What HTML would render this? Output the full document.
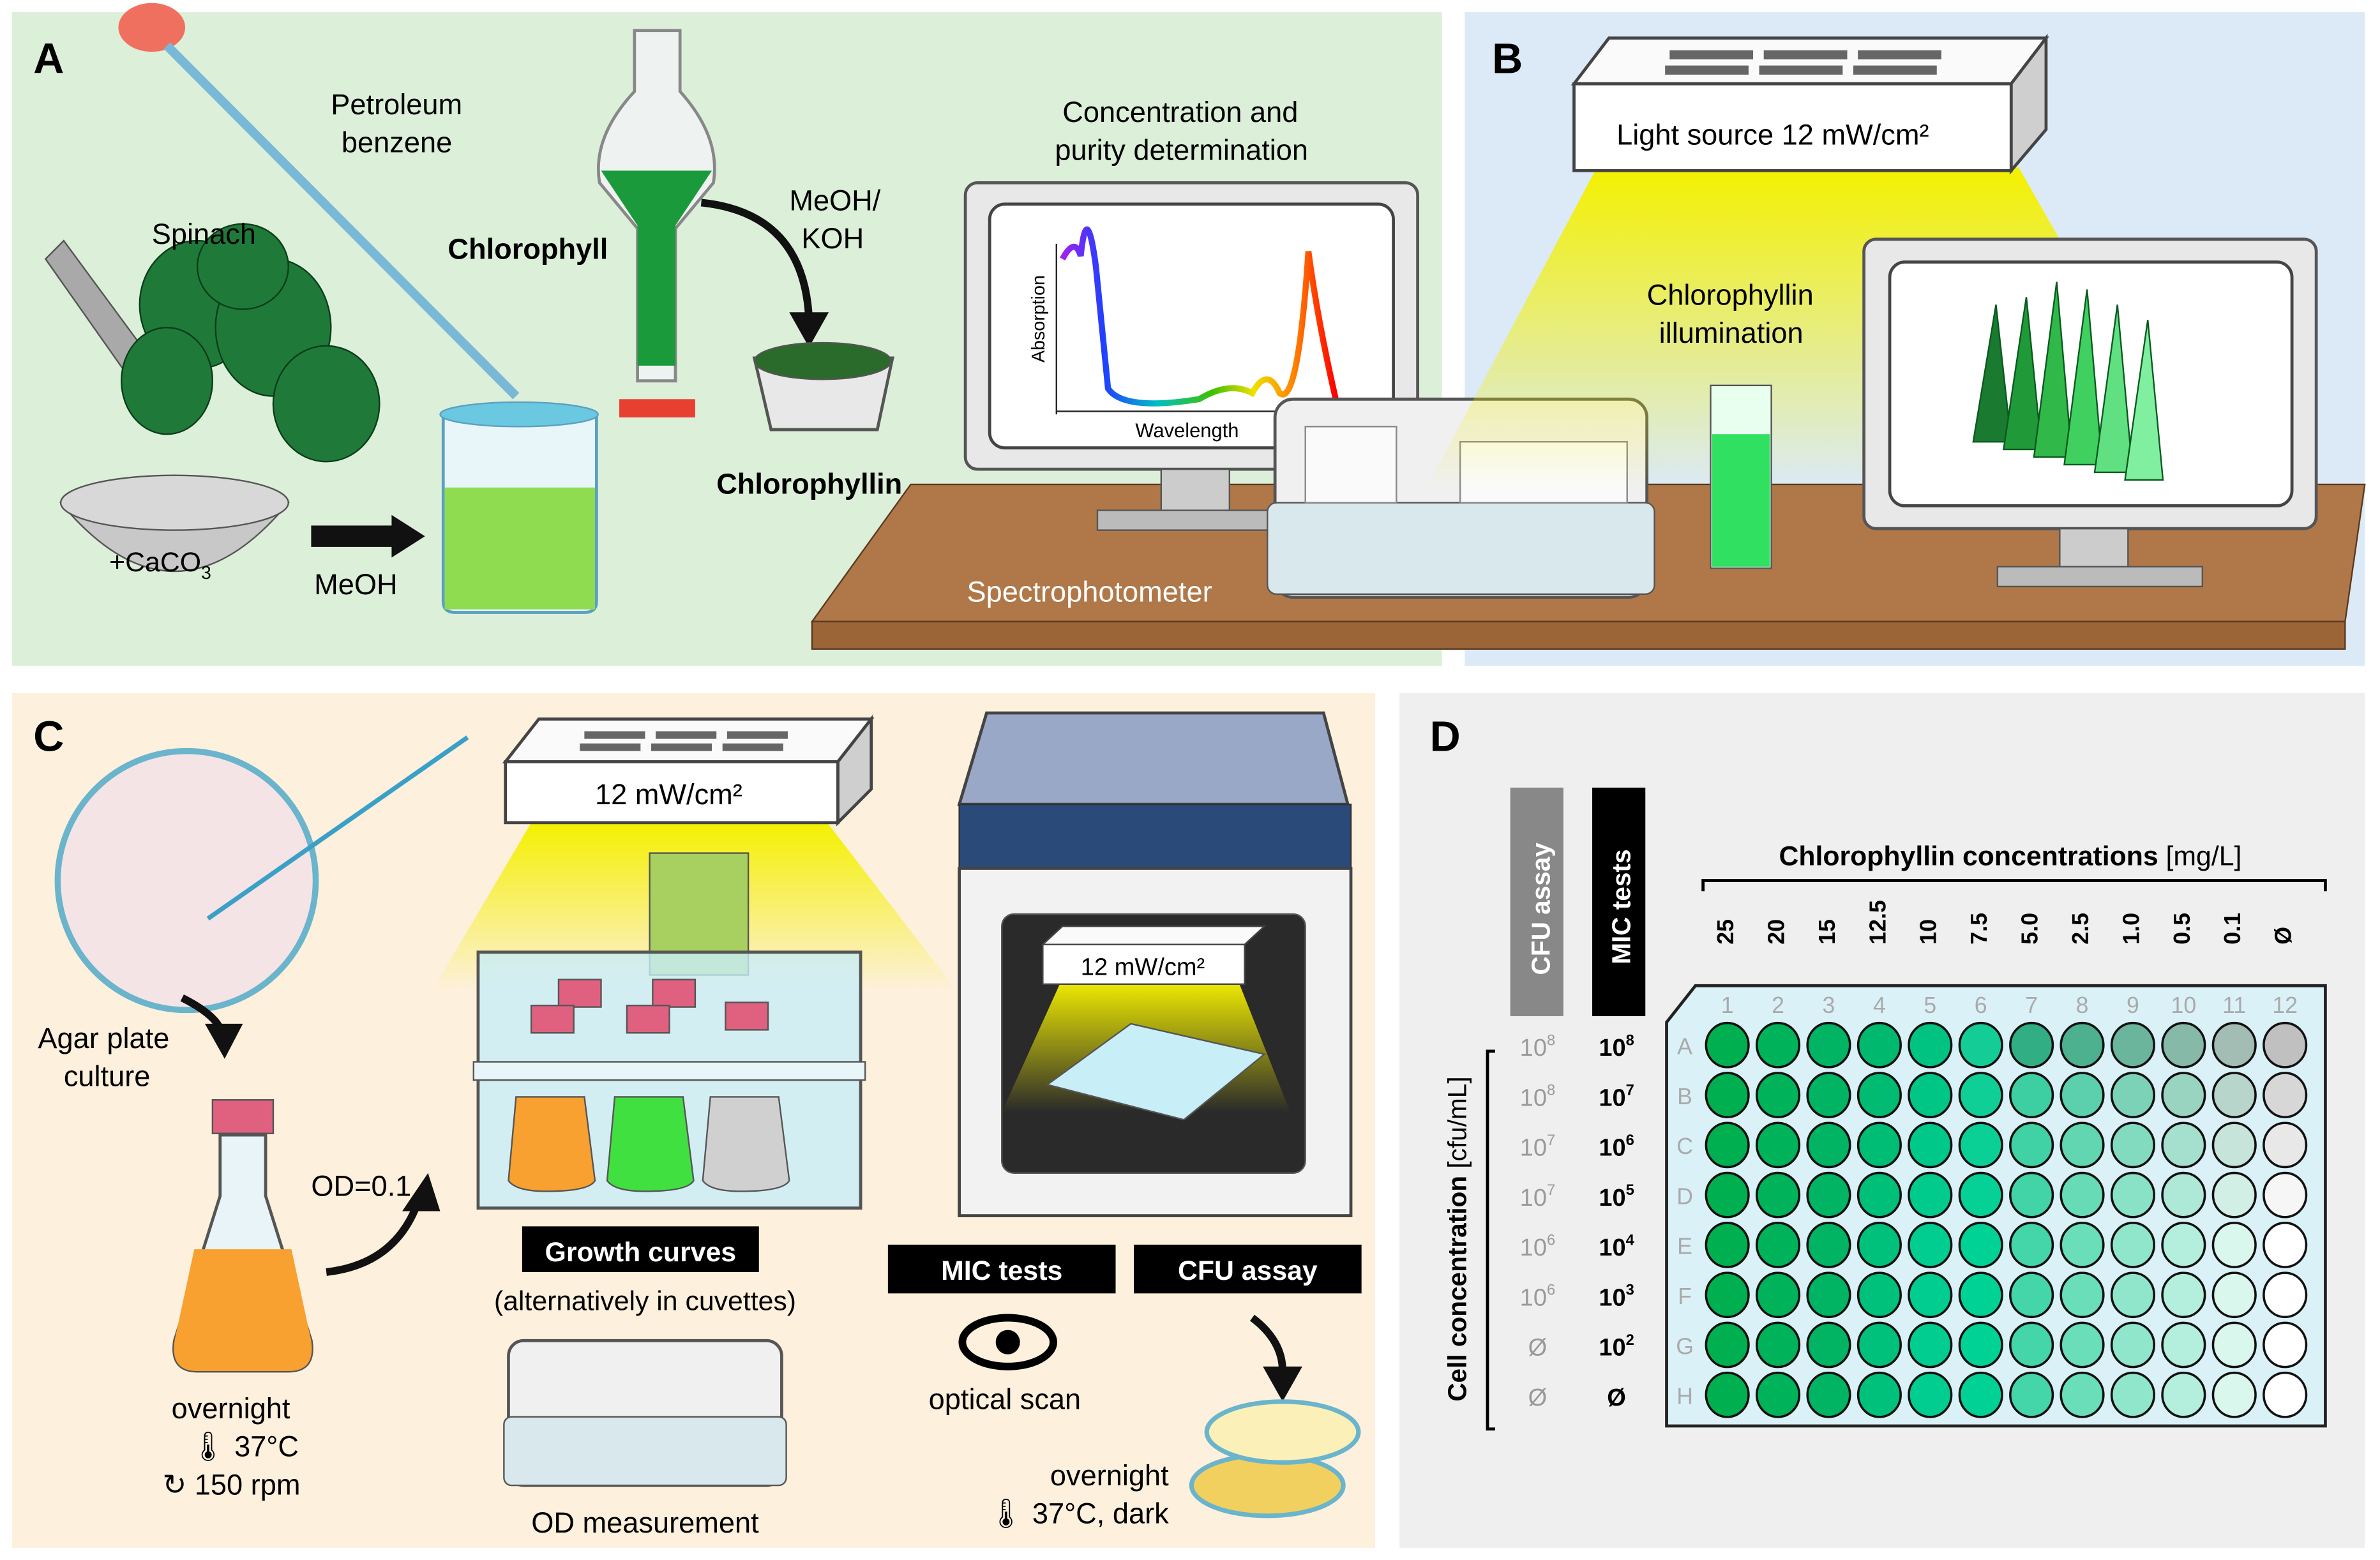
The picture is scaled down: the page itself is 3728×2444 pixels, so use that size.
<!DOCTYPE html>
<html><head><meta charset="utf-8">
<style>
html,body{margin:0;padding:0;background:#fff;}
svg{display:block;}
text{font-family:"Liberation Sans",Arial,sans-serif;}
</style></head>
<body>
<svg id="s" width="3728" height="2444" viewBox="0 0 1568 1024" preserveAspectRatio="none" xmlns="http://www.w3.org/2000/svg">
<defs>
<linearGradient id="beam" x1="0" y1="0" x2="0" y2="1"><stop offset="0" stop-color="#f4f000"/><stop offset="1" stop-color="#f4f000" stop-opacity="0"/></linearGradient>
<linearGradient id="spec" x1="0" y1="0" x2="1" y2="0"><stop offset="0" stop-color="#a020f0"/><stop offset=".15" stop-color="#2040ff"/><stop offset=".35" stop-color="#00c0c0"/><stop offset=".55" stop-color="#40c000"/><stop offset=".7" stop-color="#f0e000"/><stop offset=".85" stop-color="#ff8000"/><stop offset="1" stop-color="#ff0000"/></linearGradient>
</defs>
<!-- panel backgrounds -->
<rect x="8" y="8" width="942" height="429" fill="#dcefd9"/>
<rect x="965" y="8" width="593" height="429" fill="#dbeaf6"/>
<rect x="8" y="455" width="898" height="561" fill="#fdf0dc"/>
<rect x="922" y="455" width="636" height="561" fill="#efefef"/>

<!-- ===== Panel A ===== -->
<text x="22" y="48" font-size="28" font-weight="bold">A</text>
<!-- table -->
<polygon points="535,408 600,318 1558,318 1545,408" fill="#b07848" stroke="#5a3a20"/>
<rect x="535" y="408" width="1010" height="18" fill="#9c6538" stroke="#5a3a20"/>
<!-- mortar -->
<polygon points="30,170 42,158 110,250 95,262" fill="#a9a9a9" stroke="#555"/>
<g fill="#1f7a3a" stroke="#0c3d1a">
<ellipse cx="130" cy="200" rx="38" ry="42"/><ellipse cx="180" cy="215" rx="38" ry="45"/><ellipse cx="215" cy="265" rx="35" ry="38"/><ellipse cx="110" cy="250" rx="30" ry="35"/><ellipse cx="160" cy="175" rx="30" ry="28"/>
</g>
<path d="M40,330 Q115,420 190,330 Z" fill="#c8c8c8" stroke="#555"/>
<ellipse cx="115" cy="330" rx="75" ry="18" fill="#d8d8d8" stroke="#555"/>
<text x="72" y="375" font-size="18">+CaCO<tspan font-size="12" dy="5">3</tspan></text>
<text x="100" y="160" font-size="19">Spinach</text>
<polygon points="205,345 258,345 258,338 280,352 258,366 258,359 205,359" fill="#111"/>
<text x="207" y="390" font-size="19">MeOH</text>
<!-- pipette -->
<ellipse cx="100" cy="18" rx="22" ry="16" fill="#f07060"/>
<line x1="110" y1="30" x2="340" y2="260" stroke="#7ab8d8" stroke-width="6"/>
<text x="218" y="75" font-size="19">Petroleum</text><text x="225" y="100" font-size="19">benzene</text>
<!-- beaker -->
<path d="M292,272 L292,395 Q292,402 300,402 L385,402 Q393,402 393,395 L393,272 Z" fill="#e8f6fa" stroke="#5aa0c0" stroke-width="2"/>
<rect x="293" y="320" width="99" height="80" fill="#8fdc50"/>
<ellipse cx="342" cy="272" rx="52" ry="8" fill="#6ac8e0" stroke="#5aa0c0"/>
<!-- separatory funnel -->
<path d="M418,20 L448,20 L448,60 Q475,90 470,120 L445,150 L445,250 L420,250 L420,150 L395,120 Q390,90 418,60 Z" fill="#eef2f0" stroke="#888" stroke-width="2"/>
<path d="M396,112 L469,112 L445,148 L445,240 L420,240 L420,148 Z" fill="#1a9a3a"/>
<rect x="408" y="262" width="50" height="12" fill="#e84030"/>
<text x="295" y="170" font-size="19" font-weight="bold">Chlorophyll</text>
<text x="520" y="138" font-size="19">MeOH/</text><text x="528" y="163" font-size="19">KOH</text>
<path d="M462,133 Q530,140 533,210" fill="none" stroke="#111" stroke-width="5"/>
<polygon points="520,205 546,205 533,228" fill="#111"/>
<path d="M497,235 L508,282 L578,282 L588,235 Z" fill="#e8e8e8" stroke="#555" stroke-width="2"/>
<ellipse cx="542" cy="237" rx="45" ry="12" fill="#2a6a2a" stroke="#555"/>
<text x="472" y="324" font-size="19" font-weight="bold">Chlorophyllin</text>
<!-- monitor A -->
<text x="700" y="80" font-size="19">Concentration and</text><text x="695" y="105" font-size="19">purity determination</text>
<rect x="636" y="120" width="298" height="188" rx="8" fill="#e8e8e8" stroke="#555" stroke-width="2"/>
<rect x="652" y="134" width="266" height="160" rx="10" fill="#fff" stroke="#444" stroke-width="2"/>
<rect x="765" y="308" width="45" height="28" fill="#ccc" stroke="#555"/>
<rect x="723" y="335" width="120" height="13" fill="#bbb" stroke="#555"/>
<line x1="696" y1="160" x2="696" y2="272" stroke="#222"/><line x1="696" y1="270" x2="895" y2="270" stroke="#222"/>
<path d="M700,170 Q708,155 712,168 Q716,130 722,175 L730,255 Q740,270 790,262 Q810,250 825,258 Q835,240 843,258 Q855,268 862,165 Q868,210 880,262" fill="none" stroke="url(#spec)" stroke-width="4"/>
<text x="748" y="287" font-size="13">Wavelength</text>
<text transform="translate(688,238) rotate(-90)" font-size="12">Absorption</text>
<!-- spectrophotometer -->
<rect x="840" y="262" width="245" height="130" rx="12" fill="#f0f0f0" stroke="#555" stroke-width="2"/>
<rect x="835" y="330" width="255" height="60" rx="6" fill="#d8e8ec" stroke="#555"/>
<rect x="860" y="280" width="60" height="50" fill="#fafafa" stroke="#888"/>
<rect x="962" y="290" width="110" height="40" fill="#fafafa" stroke="#888"/>
<text x="637" y="395" font-size="19" fill="#fff">Spectrophotometer</text>

<!-- ===== Panel B ===== -->
<text x="983" y="48" font-size="28" font-weight="bold">B</text>
<polygon points="1052,110 1330,110 1450,320 940,320" fill="url(#beam)"/>
<polygon points="1037,55 1060,25 1348,25 1325,55" fill="#fafafa" stroke="#444" stroke-width="2"/>
<polygon points="1325,55 1348,25 1348,85 1325,112" fill="#cfcfcf" stroke="#444" stroke-width="2"/>
<rect x="1037" y="55" width="288" height="57" fill="#fff" stroke="#444" stroke-width="2"/>
<g fill="#666"><rect x="1100" y="33" width="55" height="6"/><rect x="1162" y="33" width="55" height="6"/><rect x="1224" y="33" width="55" height="6"/><rect x="1097" y="43" width="55" height="6"/><rect x="1159" y="43" width="55" height="6"/><rect x="1221" y="43" width="55" height="6"/></g>
<text x="1065" y="95" font-size="19">Light source 12 mW/cm²</text>
<text x="1085" y="200" font-size="19">Chlorophyllin</text><text x="1093" y="225" font-size="19">illumination</text>
<rect x="1127" y="253" width="40" height="120" fill="#e8fff0" stroke="#555"/>
<rect x="1128" y="285" width="38" height="87" fill="#30e060"/>
<!-- monitor B -->
<rect x="1228" y="157" width="298" height="190" rx="8" fill="#e8e8e8" stroke="#555" stroke-width="2"/>
<rect x="1245" y="172" width="265" height="160" rx="10" fill="#fff" stroke="#444" stroke-width="2"/>
<rect x="1357" y="347" width="45" height="26" fill="#ccc" stroke="#555"/>
<rect x="1316" y="372" width="135" height="13" fill="#bbb" stroke="#555"/>
<g stroke="#0a5a20" stroke-width="1">
<path d="M1300,290 L1315,200 L1325,290 Z" fill="#1a7a30"/><path d="M1320,295 L1335,195 L1345,295 Z" fill="#209a38"/><path d="M1340,300 L1355,185 L1365,300 Z" fill="#30b848"/><path d="M1360,305 L1375,190 L1385,305 Z" fill="#40d060"/><path d="M1380,310 L1395,200 L1405,310 Z" fill="#60e080"/><path d="M1400,315 L1415,210 L1425,315 Z" fill="#80f0a0"/>
</g>
<!-- ===== Panel C ===== -->
<text x="22" y="493" font-size="28" font-weight="bold">C</text>
<circle cx="123" cy="578" r="85" fill="#f4e4e6" stroke="#6ab4cc" stroke-width="4"/>
<line x1="137" y1="603" x2="308" y2="484" stroke="#3aa0c8" stroke-width="3"/>
<text x="25" y="688" font-size="19">Agar plate</text><text x="42" y="713" font-size="19">culture</text>
<path d="M120,655 Q140,665 145,675" fill="none" stroke="#111" stroke-width="5"/>
<polygon points="135,672 160,672 148,695" fill="#111"/>
<!-- flask -->
<rect x="140" y="722" width="40" height="22" fill="#e06080" stroke="#555"/>
<path d="M145,745 L145,785 L115,880 Q112,900 130,900 L190,900 Q208,900 205,880 L175,785 L175,745 Z" fill="#e8f4f8" stroke="#555" stroke-width="2"/>
<path d="M128,820 L192,820 L205,880 Q208,900 190,900 L130,900 Q112,900 115,880 Z" fill="#f8a030"/>
<text x="205" y="785" font-size="19">OD=0.1</text>
<path d="M215,835 Q260,830 275,790" fill="none" stroke="#111" stroke-width="5"/>
<polygon points="265,795 290,795 282,770" fill="#111"/>
<text x="113" y="931" font-size="19">overnight</text>
<text x="125" y="956" font-size="19">🌡 37°C</text>
<text x="107" y="981" font-size="19">↻ 150 rpm</text>
<!-- light C -->
<polygon points="350,540 545,540 630,650 285,650" fill="url(#beam)"/>
<polygon points="333,500 355,472 574,472 552,500" fill="#fafafa" stroke="#444" stroke-width="2"/>
<polygon points="552,500 574,472 574,518 552,540" fill="#cfcfcf" stroke="#444" stroke-width="2"/>
<rect x="333" y="500" width="219" height="40" fill="#fff" stroke="#444" stroke-width="2"/>
<g fill="#666"><rect x="385" y="480" width="40" height="5"/><rect x="432" y="480" width="40" height="5"/><rect x="479" y="480" width="40" height="5"/><rect x="382" y="488" width="40" height="5"/><rect x="429" y="488" width="40" height="5"/><rect x="476" y="488" width="40" height="5"/></g>
<text x="392" y="528" font-size="19">12 mW/cm²</text>
<!-- shaker / water bath -->
<rect x="428" y="560" width="65" height="80" fill="#a8d060" stroke="#555"/>
<rect x="315" y="625" width="252" height="168" fill="#c8eef8" fill-opacity=".8" stroke="#555" stroke-width="2"/>
<rect x="312" y="697" width="258" height="12" fill="#e8f6fa" stroke="#555"/>
<path d="M340,720 L335,775 Q340,782 360,782 Q388,782 392,775 L385,720 Z" fill="#f8a030" stroke="#555"/>
<path d="M405,720 L400,775 Q405,782 425,782 Q453,782 457,775 L450,720 Z" fill="#40e040" stroke="#555"/>
<path d="M468,720 L463,775 Q468,782 488,782 Q516,782 520,775 L513,720 Z" fill="#d0d0d0" stroke="#555"/>
<g fill="#e06080" stroke="#555"><rect x="368" y="643" width="28" height="18"/><rect x="430" y="643" width="28" height="18"/><rect x="478" y="658" width="28" height="18"/><rect x="350" y="660" width="28" height="18"/><rect x="413" y="660" width="28" height="18"/></g>
<rect x="344" y="805" width="156" height="30" fill="#000"/>
<text x="422" y="828" font-size="18" font-weight="bold" fill="#fff" text-anchor="middle">Growth curves</text>
<text x="425" y="860" font-size="18" text-anchor="middle">(alternatively in cuvettes)</text>
<rect x="335" y="880" width="180" height="95" rx="10" fill="#f0f0f0" stroke="#555" stroke-width="2"/>
<rect x="332" y="930" width="186" height="45" rx="5" fill="#d8e8ec" stroke="#555"/>
<text x="425" y="1006" font-size="19" text-anchor="middle">OD measurement</text>
<!-- incubator -->
<path d="M632,528 L650,468 L872,468 L888,528 Z" fill="#9aa8c8" stroke="#444" stroke-width="2"/>
<rect x="632" y="528" width="258" height="42" fill="#2a4a7a" stroke="#333"/>
<rect x="632" y="570" width="258" height="228" fill="#f2f2f2" stroke="#444" stroke-width="2"/>
<rect x="660" y="600" width="200" height="170" rx="8" fill="#2a2a2a" stroke="#555"/>
<polygon points="700,642 815,642 850,730 660,730" fill="url(#beam)"/>
<polygon points="687,620 700,608 833,608 820,620" fill="#fafafa" stroke="#444"/>
<rect x="687" y="620" width="133" height="26" fill="#fff" stroke="#444"/>
<text x="712" y="640" font-size="16">12 mW/cm²</text>
<polygon points="690,712 745,672 833,692 780,735" fill="#c8eef8" stroke="#555"/>
<rect x="585" y="817" width="150" height="32" fill="#000"/><text x="660" y="840" font-size="18" font-weight="bold" fill="#fff" text-anchor="middle">MIC tests</text>
<rect x="747" y="817" width="150" height="32" fill="#000"/><text x="822" y="840" font-size="18" font-weight="bold" fill="#fff" text-anchor="middle">CFU assay</text>
<ellipse cx="664" cy="881" rx="30" ry="16" fill="none" stroke="#000" stroke-width="5"/><circle cx="664" cy="881" r="8" fill="#000"/>
<text x="662" y="925" font-size="19" text-anchor="middle">optical scan</text>
<path d="M825,865 Q845,880 845,900" fill="none" stroke="#111" stroke-width="5"/>
<polygon points="832,897 858,897 845,920" fill="#111"/>
<ellipse cx="835" cy="975" rx="50" ry="20" fill="#f2d060" stroke="#6ab4cc" stroke-width="3"/>
<ellipse cx="845" cy="940" rx="50" ry="20" fill="#fbf0b8" stroke="#6ab4cc" stroke-width="3"/>
<text x="770" y="975" font-size="19" text-anchor="end">overnight</text>
<text x="770" y="1000" font-size="19" text-anchor="end">🌡 37°C, dark</text>

<!-- ===== Panel D ===== -->
<text x="942" y="493" font-size="28" font-weight="bold">D</text>
<rect x="995" y="517" width="35" height="150" fill="#888"/>
<text transform="translate(1021,640) rotate(-90)" font-size="17" font-weight="bold" fill="#fff">CFU assay</text>
<rect x="1049" y="517" width="35" height="150" fill="#000"/>
<text transform="translate(1074,633) rotate(-90)" font-size="17" font-weight="bold" fill="#fff">MIC tests</text>
<text x="1172" y="568" font-size="18" font-weight="bold">Chlorophyllin concentrations <tspan font-weight="normal">[mg/L]</tspan></text>
<path d="M1122,585 L1122,578 L1532,578 L1532,585" fill="none" stroke="#000" stroke-width="2"/>
<path d="M985,690 L980,690 L980,938 L985,938" fill="none" stroke="#000" stroke-width="2"/>
<text transform="translate(966,920) rotate(-90)" font-size="17"><tspan font-weight="bold">Cell concentration</tspan> [cfu/mL]</text>
<polygon points="1098,671 1117,647 1532,647 1532,936 1098,936" fill="#dbf1f8" stroke="#222" stroke-width="2"/>
<g id="plate"></g>
</svg>
<script>
(function(){
var g=document.getElementById('plate'),ns='http://www.w3.org/2000/svg';
function el(n,a,t){var e=document.createElementNS(ns,n);for(var k in a)e.setAttribute(k,a[k]);if(t!=null)e.textContent=t;g.appendChild(e);return e;}
var conc=['25','20','15','12.5','10','7.5','5.0','2.5','1.0','0.5','0.1','Ø'];
var rows='ABCDEFGH';
var cfu=['10|8','10|8','10|7','10|7','10|6','10|6','Ø','Ø'];
var mic=['10|8','10|7','10|6','10|5','10|4','10|3','10|2','Ø'];
function mix(a,b,t){return a.map(function(v,i){return Math.round(v+(b[i]-v)*t);});}
var green=[[0,176,80],[0,178,90],[0,180,100],[0,185,110],[0,195,130],[20,205,150]];
for(var c=0;c<12;c++){
 var x=1138+c*33.4;
 var t=el('text',{x:x,y:620,'font-size':15,'font-weight':'bold',transform:'rotate(-90 '+x+' 620)','dominant-baseline':'middle'},conc[c]);
 el('text',{x:x,y:665,'font-size':15,fill:'#aaa','text-anchor':'middle'},String(c+1));
}
for(var r=0;r<8;r++){
 var y=686+r*32.8;
 el('text',{x:1110,y:y+6,'font-size':15,fill:'#aaa','text-anchor':'middle'},rows[r]);
 [[1013,'#999',cfu[r]],[1065,'#000',mic[r]]].forEach(function(q){
  var p=q[2].split('|');var tx=el('text',{x:q[0],y:y+7,'font-size':16,fill:q[1],'text-anchor':'middle','font-weight':q[1]=='#000'?'bold':'normal'},p[0]);
  if(p[1]){var ts=document.createElementNS(ns,'tspan');ts.setAttribute('dy','-7');ts.setAttribute('font-size','10');ts.textContent=p[1];tx.appendChild(ts);}
 });
 var end=r==0?[192,192,192]:r==1?[215,215,215]:r==2?[232,232,232]:r==3?[246,246,246]:[255,255,255];
 for(var c=0;c<12;c++){
  var col;
  if(c<6){col=green[c].slice(); if(r>0&&c>=3) col=mix(col,[0,210,150],Math.min(1,r/4)*(c-2)/3);}
  else{var tt=(c-5)/6; var base=r==0?[20,170,120]:[30,205,150]; col=mix(base,end,tt);}
  el('ellipse',{cx:1138+c*33.4,cy:686+r*32.8,rx:14,ry:14.5,fill:'rgb('+col.join(',')+')',stroke:'#111','stroke-width':1.5});
 }
}
})();
</script>
</body></html>
